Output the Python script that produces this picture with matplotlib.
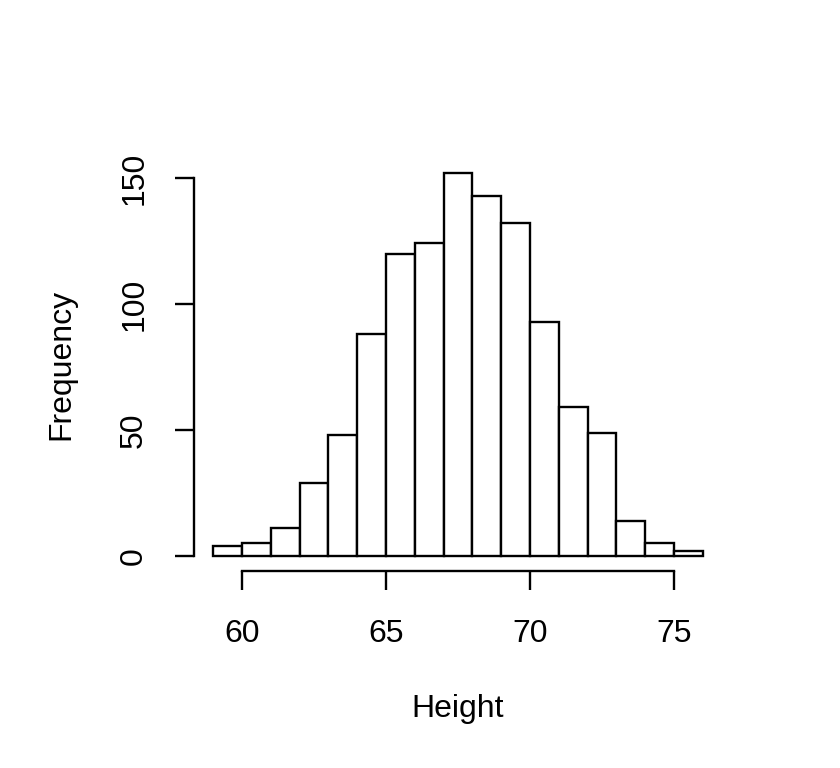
import numpy as np
import matplotlib
matplotlib.use("Agg")
import matplotlib.pyplot as plt

# histogram of heights, bins of width 1 from 59 to 76
breaks = list(range(59, 77))
counts = [4, 5, 11, 29, 48, 88, 120, 124, 152, 143, 132, 93, 59, 49, 14, 5, 2]

x_ticks = [60, 65, 70, 75]
y_ticks = [0, 50, 100, 150]

plt.rcParams["font.family"] = ["Liberation Sans", "DejaVu Sans"]

fig = plt.figure(figsize=(8.4, 7.68), dpi=100)
ax = fig.add_axes([0.2305, 0.2561, 0.8600 - 0.2305, 0.7948 - 0.2561])

lefts = breaks[:-1]
ax.bar(lefts, counts, width=1, align="edge", facecolor="white",
       edgecolor="black", linewidth=1.7)

ax.set_xlim(58.32, 76.68)
ax.set_ylim(-6.08, 158.08)

for s in ["top", "right"]:
    ax.spines[s].set_visible(False)
ax.spines["left"].set_bounds(0, 150)
ax.spines["bottom"].set_bounds(60, 75)
ax.spines["left"].set_linewidth(1.7)
ax.spines["bottom"].set_linewidth(1.7)

ax.set_xticks(x_ticks)
ax.set_yticks(y_ticks)
ax.tick_params(axis="x", length=14, width=1.7, labelsize=23, pad=20)
ax.tick_params(axis="y", length=14, width=1.7, labelsize=23, pad=18)
for lab in ax.get_yticklabels():
    lab.set_rotation(90)
    lab.set_verticalalignment("center")

ax.set_xlabel("Height", fontsize=23, labelpad=33)
ax.set_ylabel("Frequency", fontsize=23, labelpad=31)

fig.savefig("out.png", dpi=100, facecolor="white")
